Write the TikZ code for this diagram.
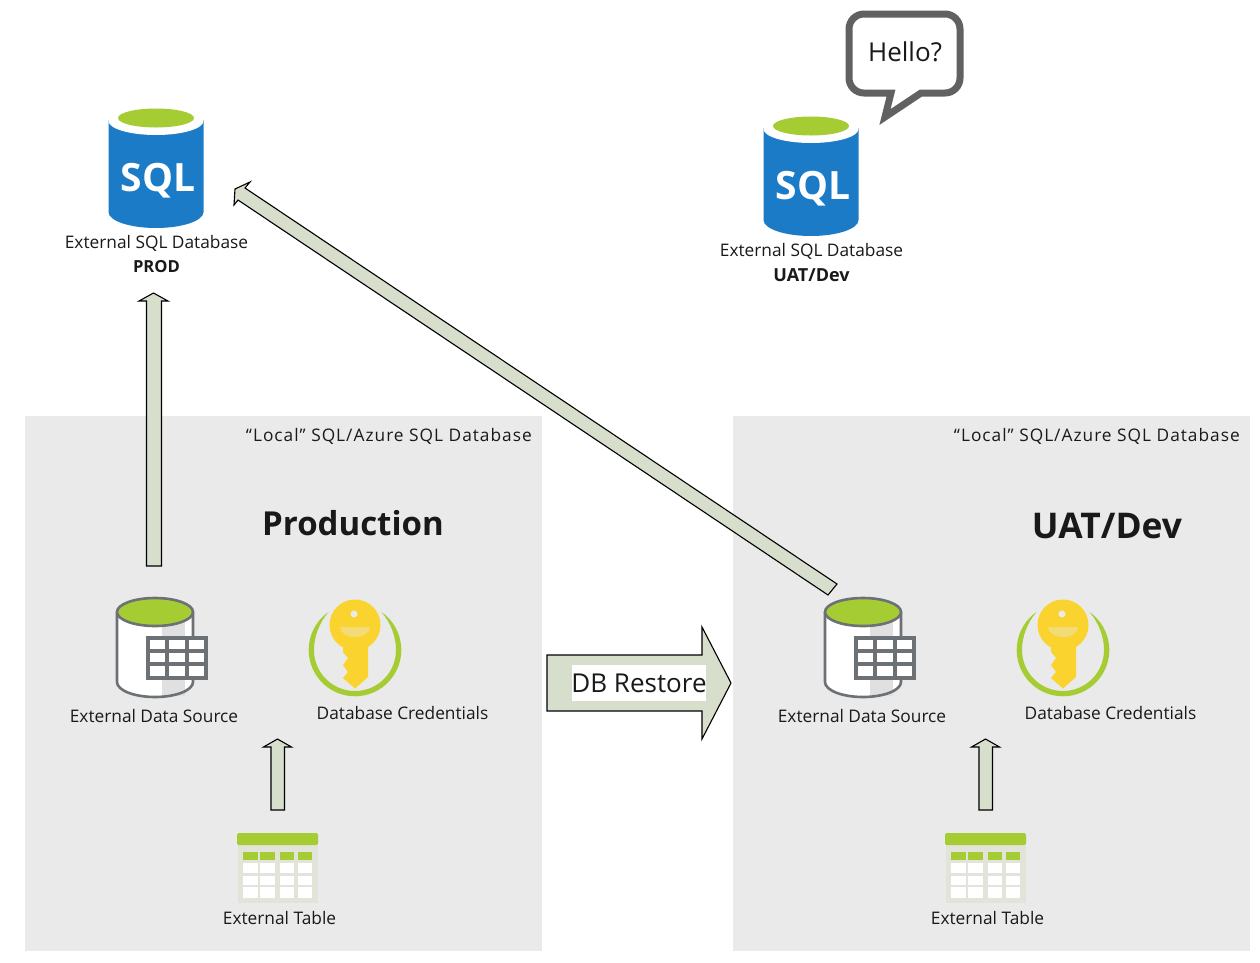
\documentclass[tikz,border=0pt]{standalone}
\usepackage{fontspec}
\setmainfont{Open Sans}
\definecolor{panel}{HTML}{EAEAEA}
\definecolor{sqlblue}{HTML}{1B7BC6}
\definecolor{lime}{HTML}{A5CD33}
\definecolor{arrowfill}{HTML}{D8DECC}
\definecolor{iconline}{HTML}{6C7176}
\definecolor{keyyellow}{HTML}{FBD32F}
\definecolor{keyshade}{HTML}{F3DC78}
\definecolor{tablebg}{HTML}{E2E4D9}
\tikzset{
  x=1pt,y=1pt,
  panelbox/.style={fill=panel,draw=none},
  blockarrow/.style={fill=arrowfill,draw=black,line width=1.1pt,line join=miter},
  lab/.style={font=\fontsize{17.3}{20}\selectfont,inner sep=0pt,text=black!90},
  boldlab/.style={font=\fontsize{18}{20}\selectfont\bfseries,inner sep=0pt,text=black!90},
  sqlcyl/.pic={
    \fill[sqlblue] (-47.5,-2) -- (-47.5,-94) arc[start angle=180,end angle=360,x radius=47.5,y radius=16] -- (47.5,-2) -- cycle;
    \fill[white] (0,-3) ellipse[x radius=47.5,y radius=14];
    \fill[lime] (0,0) ellipse[x radius=38,y radius=9.5];
    \node[font=\fontsize{39}{42}\selectfont\bfseries,text=white,inner sep=0pt] at (2,-63) {SQL};
  },
  sourcecyl/.pic={
    \fill[white] (-38,0) -- (-38,-70) arc[start angle=180,end angle=360,x radius=38,y radius=15] -- (38,0) -- cycle;
    \fill[black!12] (7,-10) rectangle (30,-84);
    \draw[iconline,line width=2.6pt] (-38,0) -- (-38,-70) arc[start angle=180,end angle=360,x radius=38,y radius=15] -- (38,0);
    \filldraw[fill=lime,draw=iconline,line width=2.6pt] (0,0) ellipse[x radius=38,y radius=14];
    \filldraw[fill=white,draw=iconline,line width=3.2pt] (-7,-26) rectangle (51,-66);
    \draw[iconline,line width=3.2pt] (12,-26) -- (12,-66) (32,-26) -- (32,-66) (-7,-39) -- (51,-39) (-7,-52) -- (51,-52);
  },
  keyicon/.pic={
    % crescent ring, tapering to its upper ends
    \fill[lime] (-26.5,38) arc[start angle=124.9,end angle=415.1,radius=46.3]
       .. controls (36,27) and (41,13) .. (41,0) arc[start angle=0,end angle=-180,radius=41]
       .. controls (-41,13) and (-36,27) .. (-26.5,38) -- cycle;
    \fill[keyyellow] (0,25) circle[radius=25.5];
    \fill[keyyellow] (-12,8) -- (13,8) -- (13,-27) -- (0,-38.5) -- (-12,-28) -- (-7,-22) -- (-12,-15) -- (-7,-8) -- (-12,-2) -- cycle;
    \fill[panel] (-1,36) circle[radius=3.5];
    \fill[keyshade] (-15,23) -- (15,23) arc[start angle=0,end angle=-180,x radius=15,y radius=10] -- cycle;
  },
  tableicon/.pic={
    \fill[tablebg] (1,-12) rectangle (81,-70);
    \fill[lime,rounded corners=1.5pt] (0,0) rectangle (81,-12);
    \foreach \a/\b in {6/21,23/38,43/57,61/75}{
      \fill[lime] (\a,-19) rectangle (\b,-27);
      \fill[white] (\a,-30) rectangle (\b,-40);
      \fill[white] (\a,-43) rectangle (\b,-52);
      \fill[white] (\a,-54) rectangle (\b,-65);
    }
  }
}
\begin{document}
\begin{tikzpicture}
\useasboundingbox (0,0) rectangle (1260,-962);
\fill[white] (0,0) rectangle (1260,-962);
% panels
\path[panelbox] (25,-416) rectangle (542,-951);
\path[panelbox] (733,-416) rectangle (1250,-951);

% diagonal arrow
\draw[blockarrow] (837,-584) -- (828,-595) -- (238,-200) -- (234,-205) -- (235,-189) -- (250,-182) -- (245,-188) -- cycle;

% up arrows
\draw[blockarrow] (146.5,-566) -- (146.5,-301) -- (139,-301) -- (153.5,-293) -- (168,-301) -- (161.5,-301) -- (161.5,-566) -- cycle;
\draw[blockarrow] (271,-810) -- (271,-747) -- (263.5,-747) -- (277.5,-739) -- (291.5,-747) -- (284.5,-747) -- (284.5,-810) -- cycle;
\draw[blockarrow] (979,-810) -- (979,-747) -- (971.5,-747) -- (985.5,-739) -- (999.5,-747) -- (992.5,-747) -- (992.5,-810) -- cycle;

% DB Restore
\draw[blockarrow] (547,-655) -- (702,-655) -- (702,-627) -- (731,-683) -- (702,-739) -- (702,-711) -- (547,-711) -- cycle;
\fill[white] (572,-665) rectangle (706,-701);
\node[inner sep=0pt,font=\fontsize{26}{30}\selectfont,text=black!90] (restore) at (639,-683) {DB Restore};

% SQL cylinders
\pic at (156,-118) {sqlcyl};
\pic at (811,-126) {sqlcyl};
\node[lab] (extprod) at (156.5,-243.5) {External SQL Database};
\node[boldlab,font=\fontsize{16.6}{20}\selectfont\bfseries] (prod) at (156.5,-267) {PROD};
\node[lab] (extuat) at (811.5,-251.5) {External SQL Database};
\node[boldlab] (uat) at (811.5,-275) {UAT/Dev};

% speech bubble
\draw[draw=black!62,fill=white,line width=7pt,miter limit=12,line join=miter]
  (864,-14) -- (945,-14) arc[start angle=90,end angle=0,radius=15] -- (960,-78) arc[start angle=0,end angle=-90,radius=15]
  -- (921,-93) -- (885,-117) -- (891,-93) -- (864,-93) arc[start angle=270,end angle=180,radius=15] -- (849,-29) arc[start angle=180,end angle=90,radius=15] -- cycle;
\node[inner sep=0pt,font=\fontsize{26}{28}\selectfont,text=black!90] (hello) at (905,-52) {Hello?};

% panel contents
\foreach \dx in {0,708}{
  \begin{scope}[xshift=\dx pt]
    \node[lab,anchor=east,font=\fontsize{17.3}{20}\selectfont\addfontfeature{LetterSpace=5.8}] at (532,-436.5) {“Local” SQL/Azure SQL Database};
    \pic at (155,-612) {sourcecyl};
    \pic at (355,-650) {keyicon};
    \pic at (237,-833) {tableicon};
    \node[lab] at (154,-716) {External Data Source};
    \node[lab] at (402.5,-713) {Database Credentials};
    \node[lab] at (279.5,-918) {External Table};
  \end{scope}
}
\node[inner sep=0pt,text=black!90,font=\fontsize{33}{38}\selectfont\bfseries] (prodtitle) at (353,-523) {Production};
\node[inner sep=0pt,text=black!90,font=\fontsize{35.4}{38}\selectfont\bfseries] (uattitle) at (1107,-526) {UAT/Dev};
\end{tikzpicture}
\end{document}
